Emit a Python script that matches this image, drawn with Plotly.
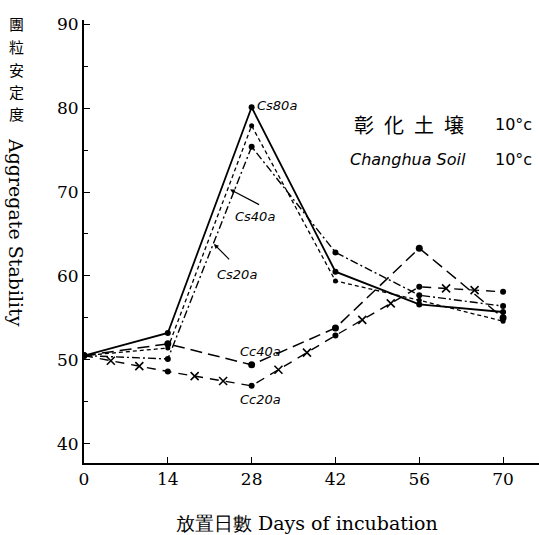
import plotly.graph_objects as go

days = [0, 14, 28, 42, 56, 70]
cs80a = [50.5, 53.2, 80.1, 60.5, 56.6, 55.7]
cs40a = [50.5, 51.4, 77.9, 59.4, 57.1, 54.6]
cs20a = [50.5, 50.1, 75.4, 62.8, 57.7, 56.4]
cc40a = [50.5, 51.9, 49.4, 53.8, 63.3, 55.0]
cc20a = [50.5, 48.6, 46.9, 52.9, 58.7, 58.1]

x_ticks = [0, 14, 28, 42, 56, 70]
y_ticks = [40, 50, 60, 70, 80, 90]

title_chars = ["團", "粒", "安", "定", "度"]

SERIF = "DejaVu Serif"
HAND = "DejaVu Sans"
CJK = "Noto Sans CJK TC"
CJK_JP = "Noto Sans CJK JP"

fig = go.Figure()

def add_line(y, dash, msize, name, width=1.6):
    fig.add_trace(go.Scatter(
        x=days, y=y, mode="lines+markers", name=name,
        line=dict(color="black", width=width, dash=dash),
        marker=dict(color="black", size=msize),
        showlegend=False, hoverinfo="skip"))

add_line(cs80a, "solid", 6, "Cs80a", 1.8)
add_line(cs40a, "4px,3px", 5, "Cs40a", 1.3)
add_line(cs20a, "8px,3px,2px,3px", 6, "Cs20a", 1.4)
add_line(cc40a, "12px,6px", 7, "Cc40a", 1.5)
add_line(cc20a, "9px,7px", 6, "Cc20a", 1.4)

# 'x' decorations along the Cc20a line (line style), derived from the data
xs, ys = [], []
for i in range(len(days) - 1):
    for f in (0.32, 0.66):
        xs.append(days[i] + f * (days[i + 1] - days[i]))
        ys.append(cc20a[i] + f * (cc20a[i + 1] - cc20a[i]))
fig.add_trace(go.Scatter(x=xs, y=ys, mode="markers", showlegend=False,
                         hoverinfo="skip",
                         marker=dict(symbol="x-thin", size=8, color="black",
                                     line=dict(color="black", width=1.6))))

ann = []
def label(text, x, y, size=13, font=HAND, italic=True, xanchor="left", **kw):
    ann.append(dict(text=text, x=x, y=y, xref="x", yref="y", showarrow=False,
                    xanchor=xanchor, yanchor="middle",
                    font=dict(family=font, size=size, color="black",
                              style="italic" if italic else "normal"), **kw))

label("Cs80a", 28.6, 80.3)
label("Cs40a", 24.9, 67.1)
label("Cs20a", 21.9, 60.2)
label("Cc40a", 25.8, 51.0)
label("Cc20a", 25.8, 45.3)

# small arrows from the Cs40a / Cs20a labels to their lines
ann.append(dict(x=24.4, y=70.3, xref="x", yref="y", ax=29.5, ay=68.4,
                axref="x", ayref="y", showarrow=True, arrowhead=2,
                arrowsize=0.8, arrowwidth=1.2, arrowcolor="black", text=""))
ann.append(dict(x=21.7, y=63.8, xref="x", yref="y", ax=24.5, ay=61.8,
                axref="x", ayref="y", showarrow=True, arrowhead=2,
                arrowsize=0.8, arrowwidth=1.2, arrowcolor="black", text=""))

# inset legend-like text
label("彰\u2002化\u2002土\u2002壌", 44.7, 78.0, size=20, font=CJK_JP, italic=False)
label("10°c", 68.3, 78.1, size=16, italic=False)
label("Changhua Soil", 44.1, 73.9, size=16)
label("10°c", 68.3, 73.9, size=16, italic=False)

# axis titles: stacked CJK characters, each its own text
plot_top, plot_h = 20, 443
for i, ch in enumerate(title_chars):
    py = 24 + i * 22.5
    ann.append(dict(text=ch, xref="paper", yref="paper",
                    x=-0.148, y=(plot_top + plot_h - py) / plot_h,
                    xanchor="center", yanchor="middle", showarrow=False,
                    borderpad=0,
                    font=dict(family=CJK, size=15, color="black")))
ann.append(dict(text="Aggregate Stability", xref="paper", yref="paper",
                x=-0.148, y=0.52, xanchor="center", yanchor="middle",
                showarrow=False, textangle=90,
                font=dict(family=SERIF, size=19, color="black")))
ann.append(dict(text="放置日數 Days of incubation", xref="paper",
                yref="paper", x=0.49, y=-0.105, xanchor="center",
                yanchor="top", showarrow=False,
                font=dict(family=SERIF, size=19, color="black")))

fig.update_layout(
    width=539, height=535,
    margin=dict(l=84, r=0, t=20, b=72),
    paper_bgcolor="white", plot_bgcolor="white",
    annotations=ann,
    xaxis=dict(range=[0, 76], tickvals=x_ticks,
               ticktext=[str(v) for v in x_ticks],
               ticks="inside", ticklen=6, tickwidth=1.3, tickcolor="black",
               showline=True, linecolor="black", linewidth=1.8,
               showgrid=False, zeroline=False,
               tickfont=dict(family=SERIF, size=17, color="black")),
    yaxis=dict(range=[37.7, 90.5], tickvals=y_ticks,
               ticktext=[str(v) for v in y_ticks],
               ticks="inside", ticklen=6, tickwidth=1.3, tickcolor="black",
               minor=dict(dtick=5, tick0=0, ticks="inside", ticklen=4,
                          tickcolor="black", tickwidth=1),
               showline=True, linecolor="black", linewidth=1.8,
               showgrid=False, zeroline=False,
               tickfont=dict(family=SERIF, size=17, color="black")),
)

fig.write_html("out.html")
